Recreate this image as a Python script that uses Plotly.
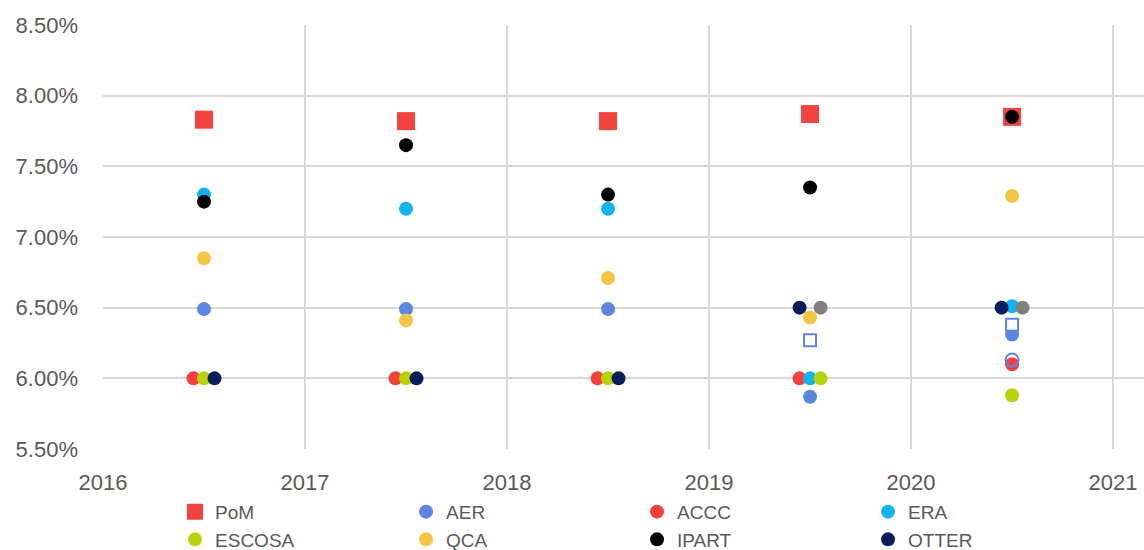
import plotly.graph_objects as go

years = [2016.5, 2017.5, 2018.5, 2019.5, 2020.5]

pom = [7.83, 7.82, 7.82, 7.87, 7.85]
aer = [6.49, 6.49, 6.49, 5.87, 6.31]
accc = [6.00, 6.00, 6.00, 6.00, 6.10]
era = [7.30, 7.20, 7.20, 6.00, 6.51]
escosa = [6.00, 6.00, 6.00, 6.00, 5.88]
qca = [6.85, 6.41, 6.71, 6.43, 7.29]
ipart = [7.25, 7.65, 7.30, 7.35, 7.85]
otter = [6.00, 6.00, 6.00, 6.50, 6.50]

other_years = [2019.5, 2020.5]
other_grey = [6.50, 6.50]
other_hollow_sq = [6.27, 6.38]
other_hollow_circ_years = [2020.5]
other_hollow_circ = [6.13]

x_ticks = [2016, 2017, 2018, 2019, 2020, 2021]
y_ticks = [5.5, 6.0, 6.5, 7.0, 7.5, 8.0, 8.5]

# cluster offsets (years) per series, per year
L, C, R = -0.052, 0.0, 0.052
accc_off = [L, L, L, L, C]
escosa_off = [C, C, C, R, C]
otter_off = [R, R, R, L, L]

fig = go.Figure()


def add(name, xs, ys, color, symbol="circle", size=14, offs=None):
    offs = offs or [0.0] * len(xs)
    fig.add_trace(go.Scatter(x=[x + o for x, o in zip(xs, offs)], y=ys, mode="markers",
                             name=name, marker=dict(color=color, size=size, symbol=symbol)))


add("PoM", years, pom, "#F2433F", symbol="square", size=18)
add("AER", years, aer, "#5B85DE")
add("ACCC", years, accc, "#F6403E", offs=accc_off)
add("ERA", years, era, "#10B4F1")
add("ESCOSA", years, escosa, "#B7D40B", offs=escosa_off)
add("QCA", years, qca, "#F3C745")
add("IPART", years, ipart, "#000000")
add("OTTER", years, otter, "#0A1E5C", offs=otter_off)

fig.add_trace(go.Scatter(x=[y + R for y in other_years], y=other_grey, mode="markers",
                         marker=dict(color="#808080", size=14), showlegend=False))
fig.add_trace(go.Scatter(x=other_years, y=other_hollow_sq, mode="markers",
                         marker=dict(color="rgba(255,255,255,0.9)", size=12, symbol="square",
                                     line=dict(color="#5B85DE", width=2)), showlegend=False))
fig.add_trace(go.Scatter(x=other_hollow_circ_years, y=other_hollow_circ, mode="markers",
                         marker=dict(color="rgba(0,0,0,0)", size=13, symbol="circle",
                                     line=dict(color="#5B85DE", width=2)), showlegend=False))

fig.update_layout(
    width=1144, height=550,
    margin=dict(l=103, r=0, t=25, b=101, autoexpand=False),
    paper_bgcolor="white", plot_bgcolor="white",
    font=dict(family="Liberation Sans, Arial, sans-serif", size=22, color="#595959"),
    xaxis=dict(range=[2016, 2021.153], tickvals=x_ticks, ticktext=[str(v) for v in x_ticks],
               showgrid=True, gridcolor="#D9D9D9", gridwidth=2, zeroline=False,
               showline=False, ticks="", ticklabelstandoff=18),
    yaxis=dict(range=[5.5, 8.5], tickvals=y_ticks, ticktext=[f"{v:.2f}%" for v in y_ticks],
               showgrid=True, gridcolor="#D9D9D9", gridwidth=2, zeroline=False,
               showline=False, ticks="", ticklabelstandoff=24),
    legend=dict(orientation="h", xref="container", yref="container", x=0.153, y=0.104,
                xanchor="left", yanchor="top", entrywidth=186, entrywidthmode="pixels",
                itemwidth=30, tracegroupgap=0, font=dict(size=19, color="#595959"),
                bgcolor="rgba(0,0,0,0)"),
    showlegend=True,
)

fig.write_html("out.html")
